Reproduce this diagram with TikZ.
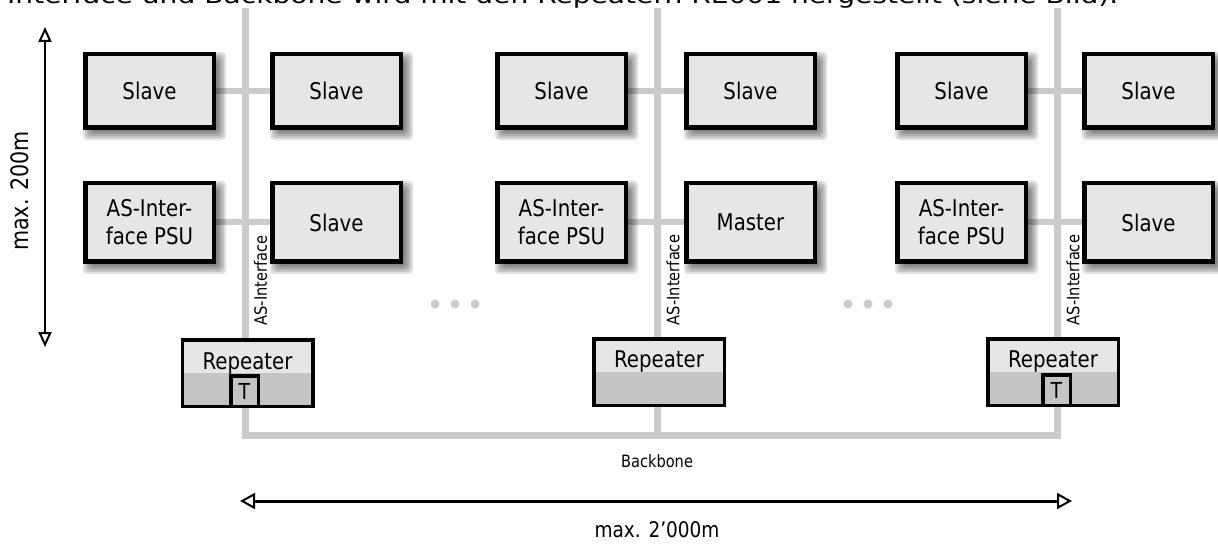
\documentclass[tikz,border=0pt]{standalone}
\usepackage{fontspec}
\setmainfont{DejaVu Sans}[FakeStretch=0.86]
\usetikzlibrary{arrows.meta}
\pgfdeclarelayer{wires}
\pgfdeclarelayer{shade}
\pgfsetlayers{wires,shade,main}
\definecolor{boxfill}{HTML}{E6E6E6}
\definecolor{wiregray}{HTML}{CBCBCB}
\definecolor{repdark}{HTML}{C4C4C4}
\definecolor{dotgray}{HTML}{CCCCCC}
\tikzset{
  device/.style={draw=black, line width=4.5pt, fill=boxfill, minimum width=128.5pt,
    inner sep=0pt, align=center, font=\fontsize{23}{28}\selectfont},
  rowone/.style={minimum height=73.5pt},
  rowtwo/.style={minimum height=78.5pt},
  repeater/.style={draw=black, line width=3.5pt, fill=boxfill, minimum width=130.5pt,
    minimum height=66.5pt, inner sep=0pt,
    path picture={\fill[repdark] (path picture bounding box.west)
      rectangle (path picture bounding box.south east);}},
  replabel/.style={anchor=base, inner sep=0pt, font=\fontsize{23}{28}\selectfont},
  terminal/.style={draw=black, line width=3.5pt, fill=repdark, minimum width=27.5pt,
    minimum height=30.5pt, inner sep=0pt, font=\fontsize{22}{26}\selectfont},
  wire/.style={draw=wiregray, line width=7pt},
  link/.style={draw=wiregray, line width=6pt},
  buslabel/.style={rotate=90, inner sep=0pt, font=\fontsize{17}{20}\selectfont},
  vdim/.style={line width=2pt,
    arrows={Triangle[open, length=15pt, width=13pt, line width=2pt]-Triangle[open, length=15pt, width=13pt, line width=2pt]}},
  hdim/.style={line width=3pt,
    arrows={Triangle[open, length=15pt, width=16pt, line width=2pt]-Triangle[open, length=15pt, width=16pt, line width=2pt]}},
  dimlabel/.style={inner sep=0pt, font=\fontsize{21.5}{26}\selectfont},
}
\begin{document}
\begin{tikzpicture}[x=1pt, y=-1pt]
\useasboundingbox (0,0) rectangle (1218,545);
\clip (0,0) rectangle (1218,545);

% running text line above the figure
\node[anchor=base west, inner sep=0pt, font=\fontsize{23}{28}\selectfont] (hdr) at (7,4)
  {\resizebox{1111pt}{\height}{Interface und Backbone wird mit den Repeatern RE001 hergestellt (siehe Bild).}};

% segment 1
\node[device, rowone] (s1) at (149.5,91) {Slave};
\node[device, rowone] (s2) at (336.5,91) {Slave};
\node[device, rowtwo] (p1) at (149.5,222.5) {AS-Inter-\\face PSU};
\node[device, rowtwo] (b1) at (336.5,222.5) {Slave};
% segment 2
\node[device, rowone] (s3) at (561.5,91) {Slave};
\node[device, rowone] (s4) at (750.5,91) {Slave};
\node[device, rowtwo] (p2) at (561.5,222.5) {AS-Inter-\\face PSU};
\node[device, rowtwo] (m1) at (750.5,222.5) {Master};
% segment 3
\node[device, rowone] (s5) at (961.5,91) {Slave};
\node[device, rowone] (s6) at (1148.5,91) {Slave};
\node[device, rowtwo] (p3) at (961.5,222.5) {AS-Inter-\\face PSU};
\node[device, rowtwo] (b2) at (1148.5,222.5) {Slave};

% repeaters
\node[repeater] (r1) at (247.5,373) {};
\node[replabel] (r1t) at ([yshift=4pt]r1.center) {Repeater};
\node[terminal] (t1box) at (244.5,391) {T};
\node[repeater] (r2) at (659,372) {};
\node[replabel] (r2t) at ([yshift=5pt]r2.center) {Repeater};
\node[repeater] (r3) at (1053,372) {};
\node[replabel] (r3t) at ([yshift=5pt]r3.center) {Repeater};
\node[terminal] (t3box) at (1056.5,390) {T};

% bus coordinates
\coordinate (top1) at (245,8);
\coordinate (top2) at (657,8);
\coordinate (top3) at (1057,8);
\coordinate (bb1) at (245,435);
\coordinate (bb2) at (657,435);
\coordinate (bb3) at (1057,435);

\begin{pgfonlayer}{wires}
  \draw[wire] (top1) -- (bb1) -- (bb3) -- (top3);
  \draw[wire] (top2) -- (bb2);
  \draw[link] (s1) -- (s2);
  \draw[link] (p1) -- (b1);
  \draw[link] (s3) -- (s4);
  \draw[link] (p2) -- (m1);
  \draw[link] (s5) -- (s6);
  \draw[link] (p3) -- (b2);
\end{pgfonlayer}

% soft drop shadows behind the device boxes
\begin{pgfonlayer}{shade}
  \foreach \n in {s1,s2,s3,s4,s5,s6,p1,b1,p2,m1,p3,b2}{
    \foreach \e in {-3,-1,1,3,5}{
      \fill[black, opacity=0.12, rounded corners=4pt]
        ([shift={(5-\e,5-\e)}]\n.north west) rectangle ([shift={(5+\e,5+\e)}]\n.south east);
    }
  }
\end{pgfonlayer}

% bus labels
\node[buslabel] (l1) at (260.5,280.5) {AS-Interface};
\node[buslabel] (l2) at (673,280) {AS-Interface};
\node[buslabel] (l3) at (1073,280) {AS-Interface};
\node[inner sep=0pt, font=\fontsize{17}{20}\selectfont] (bbl) at (657,461) {Backbone};

% continuation dots
\foreach \x in {435,455,475,848,868,888}{
  \fill[dotgray] (\x,304) circle[radius=4.5];
}

% dimensions
\coordinate (vtop) at (45,27);
\coordinate (vbot) at (45,347);
\draw[vdim] (vtop) -- (vbot);
\node[dimlabel, rotate=90, font=\fontsize{24}{28}\selectfont] (vl) at (20,191) {max. 200m};
\coordinate (hl) at (240,501);
\coordinate (hr) at (1072,501);
\draw[hdim] (hl) -- (hr);
\node[dimlabel] (hlab) at (657,530) {max. 2’000m};
\end{tikzpicture}
\end{document}
